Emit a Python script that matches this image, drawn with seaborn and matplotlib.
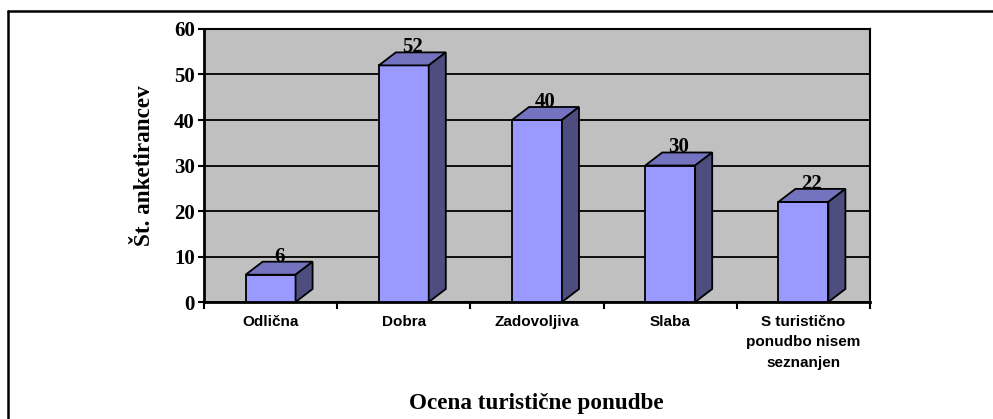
import matplotlib.pyplot as plt
import matplotlib.lines as mlines
from matplotlib.patches import Polygon
import seaborn as sns
import pandas as pd

# data
categories = ['Odlična', 'Dobra', 'Zadovoljiva', 'Slaba',
              'S turistično\nponudbo nisem\nseznanjen']
counts = [6, 52, 40, 30, 22]

df = pd.DataFrame({'ocena': categories, 'st': counts})

sns.set_theme(style="white")
plt.rcParams.update({'text.color': 'black', 'axes.labelcolor': 'black',
                     'xtick.color': 'black', 'ytick.color': 'black'})
serif = ['Liberation Serif', 'DejaVu Serif']
sans = ['Liberation Sans', 'DejaVu Sans']

front = '#9999FF'
top_col = '#7373C0'
side_col = '#4D4D80'
depth_x, depth_y = 0.128, 2.86   # fake 3D offset, in data units

fig = plt.figure(figsize=(9.93, 4.19), dpi=100)
ax = fig.add_axes([0.2054, 0.2792, 0.6707, 0.6516])
ax.set_facecolor('#C0C0C0')

sns.barplot(data=df, x='ocena', y='st', color=front, saturation=1,
            width=0.375, edgecolor='black', linewidth=1.3, ax=ax, zorder=3)

# top and side faces of each column, built from the drawn bars
for p in ax.patches:
    x0 = p.get_x()
    w = p.get_width()
    h = p.get_height()
    x1 = x0 + w
    top = Polygon([(x0, h), (x1, h), (x1 + depth_x, h + depth_y), (x0 + depth_x, h + depth_y)],
                  closed=True, facecolor=top_col, edgecolor='black', lw=1.3, zorder=3)
    side = Polygon([(x1, 0), (x1 + depth_x, depth_y), (x1 + depth_x, h + depth_y), (x1, h)],
                   closed=True, facecolor=side_col, edgecolor='black', lw=1.3, zorder=3)
    ax.add_patch(top)
    ax.add_patch(side)
    ax.text(x0 + w / 2 + depth_x / 2, h + depth_y, f'{int(h)}', ha='center', va='baseline',
            fontsize=15, fontweight='bold', family=serif, color='black', zorder=4)

ax.set_xlim(-0.5, len(categories) - 0.5)
ax.set_ylim(0, 60)
ax.set_yticks(range(0, 61, 10))
ax.yaxis.grid(True, color='black', lw=1.3)
ax.set_axisbelow(True)

# category boundaries as ticks, labels at centers
ax.set_xticks([i - 0.5 for i in range(len(categories) + 1)])
ax.set_xticklabels([])
ax.set_xticks(range(len(categories)), minor=True)
ax.set_xticklabels(categories, minor=True, fontsize=11, fontweight='bold',
                   family=sans, linespacing=1.6)
ax.tick_params(axis='x', which='major', direction='out', length=5, width=1.5,
               color='black', bottom=True)
ax.tick_params(axis='x', which='minor', length=0, pad=9)
ax.tick_params(axis='y', direction='out', length=4.5, width=1.5, color='black',
               left=True, pad=2)
for lab in ax.get_yticklabels():
    lab.set_fontfamily(serif)
    lab.set_fontweight('bold')
    lab.set_fontsize(15)

for s in ['left', 'bottom']:
    ax.spines[s].set_linewidth(2)
    ax.spines[s].set_color('black')
for s in ['top', 'right']:
    ax.spines[s].set_linewidth(1.5)
    ax.spines[s].set_color('black')

ax.set_ylabel('Št. anketirancev', fontsize=16.7, fontweight='bold', family=serif)
ax.yaxis.set_label_coords(-0.074, 0.5)
ax.set_xlabel('Ocena turistične ponudbe', fontsize=16.7, fontweight='bold', family=serif)
ax.xaxis.set_label_coords(0.4985, -0.335)

# outer chart frame (left and top edges visible)
fig.add_artist(mlines.Line2D([8 / 993, 8 / 993], [0, 1 - 11 / 419], color='black', lw=1.8,
                             transform=fig.transFigure))
fig.add_artist(mlines.Line2D([8 / 993, 1], [1 - 11 / 419, 1 - 11 / 419], color='black', lw=1.8,
                             transform=fig.transFigure))

fig.savefig('out.png', dpi=100)
